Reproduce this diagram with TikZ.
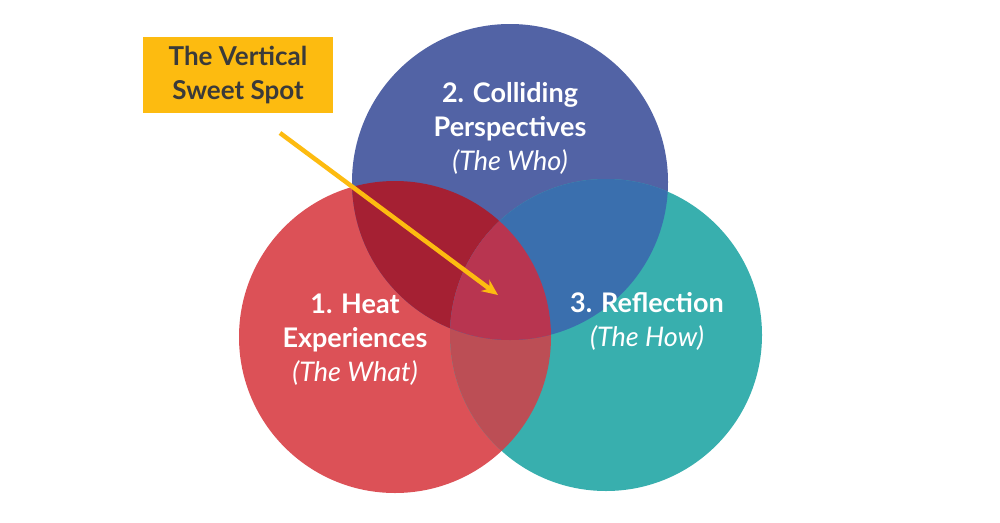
\documentclass[tikz,border=0pt]{standalone}
\usepackage{fontspec}
\usetikzlibrary{arrows.meta}
\setmainfont{Lato}
\definecolor{cred}{HTML}{DC5157}
\definecolor{cblue}{HTML}{5263A5}
\definecolor{cteal}{HTML}{38AFAE}
\definecolor{crb}{HTML}{A52033}
\definecolor{crt}{HTML}{BC4E55}
\definecolor{cbt}{HTML}{3A6FAE}
\definecolor{call}{HTML}{B83550}
\definecolor{cyel}{HTML}{FDBB10}
\definecolor{ctxt}{HTML}{3A3A3A}
\begin{document}
\begin{tikzpicture}[x=1pt,y=-1pt,
  lbl/.style={text=white,align=center,font=\fontsize{27}{34}\selectfont}]
\useasboundingbox (0,0) rectangle (1000,522);
\fill[white] (0,0) rectangle (1000,522);
\def\R{(395,337) circle (156)}
\def\B{(510,182) circle (158)}
\def\T{(606,335) circle (156)}
\fill[cred] \R; \fill[cblue] \B; \fill[cteal] \T;
\begin{scope}\clip \R; \fill[crb] \B; \fill[crt] \T; \end{scope}
\begin{scope}\clip \B; \fill[cbt] \T; \end{scope}
\begin{scope}\clip \R; \clip \B; \fill[call] \T; \end{scope}
\node[lbl] (n2) at (510,128) {\textbf{2. Colliding}\\\textbf{Perspectives}\\\textit{(The Who)}};
\node[lbl] (n1) at (355,340) {\textbf{1. Heat}\\\textbf{Experiences}\\\textit{(The What)}};
\node[lbl] (n3) at (647,321) {\textbf{3. Reflection}\\\textit{(The How)}};
\node[fill=cyel,minimum width=190,minimum height=76,text=ctxt,align=center,
  font=\bfseries\fontsize{26}{34}\selectfont] (box) at (238,75) {The Vertical\\Sweet Spot};
\coordinate (s) at (280,133);
\coordinate (e) at (498,295);
\draw[cyel,line width=4.5,-{Stealth[length=16,width=14]}] (s) -- (e);
\end{tikzpicture}
\end{document}
